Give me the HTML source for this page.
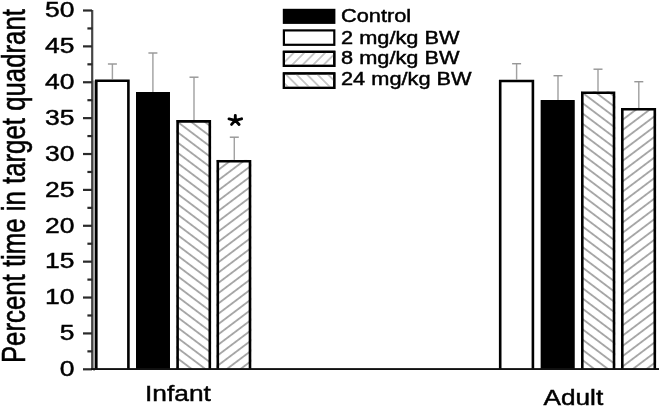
<!DOCTYPE html><html><head><meta charset="utf-8"><style>html,body{margin:0;padding:0;background:#fff;overflow:hidden}svg{display:block;filter:blur(0.5px)}text{font-family:"Liberation Sans",sans-serif;fill:#000;stroke:#000;stroke-width:0.45px}</style></head><body>
<svg width="661" height="408" viewBox="0 0 661 408">
<defs>
<pattern id="h1_0" patternUnits="userSpaceOnUse" width="20" height="8.210" patternTransform="translate(180,257.4) rotate(37.0)"><rect x="-1" y="-0.95" width="22" height="1.9" fill="#a6a6a6"/><rect x="-1" y="7.260" width="22" height="1.9" fill="#a6a6a6"/></pattern>
<pattern id="h1_1" patternUnits="userSpaceOnUse" width="20" height="8.210" patternTransform="translate(584.5,207.4) rotate(37.0)"><rect x="-1" y="-0.95" width="22" height="1.9" fill="#a6a6a6"/><rect x="-1" y="7.260" width="22" height="1.9" fill="#a6a6a6"/></pattern>
<pattern id="h2_0" patternUnits="userSpaceOnUse" width="20" height="8.210" patternTransform="translate(220,220.0) rotate(-37.0)"><rect x="-1" y="-0.95" width="22" height="1.9" fill="#a6a6a6"/><rect x="-1" y="7.260" width="22" height="1.9" fill="#a6a6a6"/></pattern>
<pattern id="h2_1" patternUnits="userSpaceOnUse" width="20" height="8.210" patternTransform="translate(624.3,211.0) rotate(-37.0)"><rect x="-1" y="-0.95" width="22" height="1.9" fill="#a6a6a6"/><rect x="-1" y="7.260" width="22" height="1.9" fill="#a6a6a6"/></pattern>
<pattern id="l1" patternUnits="userSpaceOnUse" width="20" height="7.425" patternTransform="translate(291,66) rotate(-45.0)"><rect x="-1" y="-0.6" width="22" height="1.2" fill="#a6a6a6"/><rect x="-1" y="6.825" width="22" height="1.2" fill="#a6a6a6"/></pattern>
<pattern id="l2" patternUnits="userSpaceOnUse" width="20" height="7.425" patternTransform="translate(295,73) rotate(45.0)"><rect x="-1" y="-0.6" width="22" height="1.2" fill="#a6a6a6"/><rect x="-1" y="6.825" width="22" height="1.2" fill="#a6a6a6"/></pattern>
</defs>
<line x1="112.4" y1="64.0" x2="112.4" y2="80.4" stroke="#a2a2a2" stroke-width="1.45"/>
<line x1="107.9" y1="64.0" x2="116.9" y2="64.0" stroke="#979797" stroke-width="1.45"/>
<line x1="152.9" y1="53.0" x2="152.9" y2="93.0" stroke="#a2a2a2" stroke-width="1.45"/>
<line x1="148.4" y1="53.0" x2="157.4" y2="53.0" stroke="#979797" stroke-width="1.45"/>
<line x1="194.0" y1="77.2" x2="194.0" y2="121.1" stroke="#a2a2a2" stroke-width="1.45"/>
<line x1="189.5" y1="77.2" x2="198.5" y2="77.2" stroke="#979797" stroke-width="1.45"/>
<line x1="234.3" y1="137.2" x2="234.3" y2="160.9" stroke="#a2a2a2" stroke-width="1.45"/>
<line x1="229.8" y1="137.2" x2="238.8" y2="137.2" stroke="#979797" stroke-width="1.45"/>
<line x1="516.6" y1="63.7" x2="516.6" y2="80.7" stroke="#a2a2a2" stroke-width="1.45"/>
<line x1="512.1" y1="63.7" x2="521.1" y2="63.7" stroke="#979797" stroke-width="1.45"/>
<line x1="558.0" y1="75.7" x2="558.0" y2="101.1" stroke="#a2a2a2" stroke-width="1.45"/>
<line x1="553.5" y1="75.7" x2="562.5" y2="75.7" stroke="#979797" stroke-width="1.45"/>
<line x1="598.0" y1="69.2" x2="598.0" y2="92.5" stroke="#a2a2a2" stroke-width="1.45"/>
<line x1="593.5" y1="69.2" x2="602.5" y2="69.2" stroke="#979797" stroke-width="1.45"/>
<line x1="638.8" y1="81.7" x2="638.8" y2="109.0" stroke="#a2a2a2" stroke-width="1.45"/>
<line x1="634.3" y1="81.7" x2="643.3" y2="81.7" stroke="#979797" stroke-width="1.45"/>
<rect x="93.2" y="80.4" width="1.8" height="290.6" fill="#aaa"/>
<rect x="95.0" y="79.4" width="34.70" height="290.60" fill="#fff"/>
<rect x="95.0" y="79.4" width="34.70" height="290.60" fill="#fff"/>
<path d="M96.30,370.0V80.70H128.40V370.0" fill="none" stroke="#000" stroke-width="2.6"/>
<rect x="136.0" y="92.0" width="33.90" height="278.00" fill="#fff"/>
<rect x="136.0" y="92.0" width="33.90" height="278.00" fill="#000"/>
<path d="M137.30,370.0V93.30H168.60V370.0" fill="none" stroke="#000" stroke-width="2.6"/>
<rect x="176.3" y="120.1" width="34.80" height="249.90" fill="#fff"/>
<rect x="176.3" y="120.1" width="34.80" height="249.90" fill="url(#h1_0)"/>
<path d="M177.60,370.0V121.40H209.80V370.0" fill="none" stroke="#000" stroke-width="2.6"/>
<rect x="216.5" y="159.9" width="34.80" height="210.10" fill="#fff"/>
<rect x="216.5" y="159.9" width="34.80" height="210.10" fill="url(#h2_0)"/>
<path d="M217.80,370.0V161.20H250.00V370.0" fill="none" stroke="#000" stroke-width="2.6"/>
<rect x="498.9" y="79.7" width="35.30" height="290.30" fill="#fff"/>
<rect x="498.9" y="79.7" width="35.30" height="290.30" fill="#fff"/>
<path d="M500.20,370.0V81.00H532.90V370.0" fill="none" stroke="#000" stroke-width="2.6"/>
<rect x="540.8" y="100.1" width="33.70" height="269.90" fill="#fff"/>
<rect x="540.8" y="100.1" width="33.70" height="269.90" fill="#000"/>
<path d="M542.10,370.0V101.40H573.20V370.0" fill="none" stroke="#000" stroke-width="2.6"/>
<rect x="581.0" y="91.5" width="34.30" height="278.50" fill="#fff"/>
<rect x="581.0" y="91.5" width="34.30" height="278.50" fill="url(#h1_1)"/>
<path d="M582.30,370.0V92.80H614.00V370.0" fill="none" stroke="#000" stroke-width="2.6"/>
<rect x="621.0" y="108.0" width="35.10" height="262.00" fill="#fff"/>
<rect x="621.0" y="108.0" width="35.10" height="262.00" fill="url(#h2_1)"/>
<path d="M622.30,370.0V109.30H654.80V370.0" fill="none" stroke="#000" stroke-width="2.6"/>
<rect x="91.1" y="10" width="2.2" height="360.0" fill="#454545"/>
<rect x="83" y="368.20" width="9" height="2.2" fill="#2a2a2a"/>
<rect x="87.4" y="350.26" width="5" height="2.2" fill="#2a2a2a"/>
<rect x="83" y="332.32" width="9" height="2.2" fill="#2a2a2a"/>
<rect x="87.4" y="314.38" width="5" height="2.2" fill="#2a2a2a"/>
<rect x="83" y="296.44" width="9" height="2.2" fill="#2a2a2a"/>
<rect x="87.4" y="278.50" width="5" height="2.2" fill="#2a2a2a"/>
<rect x="83" y="260.56" width="9" height="2.2" fill="#2a2a2a"/>
<rect x="87.4" y="242.62" width="5" height="2.2" fill="#2a2a2a"/>
<rect x="83" y="224.68" width="9" height="2.2" fill="#2a2a2a"/>
<rect x="87.4" y="206.74" width="5" height="2.2" fill="#2a2a2a"/>
<rect x="83" y="188.80" width="9" height="2.2" fill="#2a2a2a"/>
<rect x="87.4" y="170.86" width="5" height="2.2" fill="#2a2a2a"/>
<rect x="83" y="152.92" width="9" height="2.2" fill="#2a2a2a"/>
<rect x="87.4" y="134.98" width="5" height="2.2" fill="#2a2a2a"/>
<rect x="83" y="117.04" width="9" height="2.2" fill="#2a2a2a"/>
<rect x="87.4" y="99.10" width="5" height="2.2" fill="#2a2a2a"/>
<rect x="83" y="81.16" width="9" height="2.2" fill="#2a2a2a"/>
<rect x="87.4" y="63.22" width="5" height="2.2" fill="#2a2a2a"/>
<rect x="83" y="45.28" width="9" height="2.2" fill="#2a2a2a"/>
<rect x="87.4" y="27.34" width="5" height="2.2" fill="#2a2a2a"/>
<rect x="83" y="9.40" width="9" height="2.2" fill="#2a2a2a"/>
<rect x="91" y="368.10" width="568" height="1.9" fill="#111"/>
<text x="0" y="0" font-size="21.5" text-anchor="end" transform="translate(74.5,376.10) scale(1.23,1)">0</text>
<text x="0" y="0" font-size="21.5" text-anchor="end" transform="translate(74.5,340.22) scale(1.23,1)">5</text>
<text x="0" y="0" font-size="21.5" text-anchor="end" transform="translate(74.5,304.34) scale(1.23,1)">10</text>
<text x="0" y="0" font-size="21.5" text-anchor="end" transform="translate(74.5,268.46) scale(1.23,1)">15</text>
<text x="0" y="0" font-size="21.5" text-anchor="end" transform="translate(74.5,232.58) scale(1.23,1)">20</text>
<text x="0" y="0" font-size="21.5" text-anchor="end" transform="translate(74.5,196.70) scale(1.23,1)">25</text>
<text x="0" y="0" font-size="21.5" text-anchor="end" transform="translate(74.5,160.82) scale(1.23,1)">30</text>
<text x="0" y="0" font-size="21.5" text-anchor="end" transform="translate(74.5,124.94) scale(1.23,1)">35</text>
<text x="0" y="0" font-size="21.5" text-anchor="end" transform="translate(74.5,89.06) scale(1.23,1)">40</text>
<text x="0" y="0" font-size="21.5" text-anchor="end" transform="translate(74.5,53.18) scale(1.23,1)">45</text>
<text x="0" y="0" font-size="21.5" text-anchor="end" transform="translate(74.5,17.30) scale(1.23,1)">50</text>
<path d="M235.3,120.3L235.3,115.4 M235.3,120.3L229.0,118.9 M235.3,120.3L241.6,118.8 M235.3,120.3L231.6,124.4 M235.3,120.3L239.1,124.4" stroke="#000" stroke-width="2.9" stroke-linecap="round" fill="none"/>
<rect x="282.8" y="8.8" width="52.60" height="15.10" fill="#000"/>
<text x="0" y="0" font-size="18" transform="translate(341.0,22.4) scale(1.21,1)">Control</text>
<rect x="283.90000000000003" y="30.400000000000002" width="50.40" height="14.40" fill="#fff" stroke="#000" stroke-width="2.2"/>
<text x="0" y="0" font-size="18" transform="translate(341.0,43.6) scale(1.21,1)">2 mg/kg BW</text>
<rect x="283.90000000000003" y="51.800000000000004" width="50.40" height="14.10" fill="#fff" stroke="#000" stroke-width="2.2"/>
<rect x="283.90000000000003" y="51.800000000000004" width="50.40" height="14.10" fill="url(#l1)" stroke="#000" stroke-width="2.2"/>
<text x="0" y="0" font-size="18" transform="translate(341.0,64.1) scale(1.21,1)">8 mg/kg BW</text>
<rect x="283.90000000000003" y="73.39999999999999" width="50.40" height="14.50" fill="#fff" stroke="#000" stroke-width="2.2"/>
<rect x="283.90000000000003" y="73.39999999999999" width="50.40" height="14.50" fill="url(#l2)" stroke="#000" stroke-width="2.2"/>
<text x="0" y="0" font-size="18" transform="translate(341.0,85.3) scale(1.21,1)">24 mg/kg BW</text>
<text x="0" y="0" font-size="22.5" transform="translate(145,401.2) scale(1.17,1)">Infant</text>
<text x="0" y="0" font-size="21.2" transform="translate(543.5,405.4) scale(1.235,1)">Adult</text>
<text x="0" y="0" font-size="25.8" transform="translate(25.3,363.1) rotate(-90) scale(1,1.26)">Percent time in target quadrant</text>
</svg></body></html>
